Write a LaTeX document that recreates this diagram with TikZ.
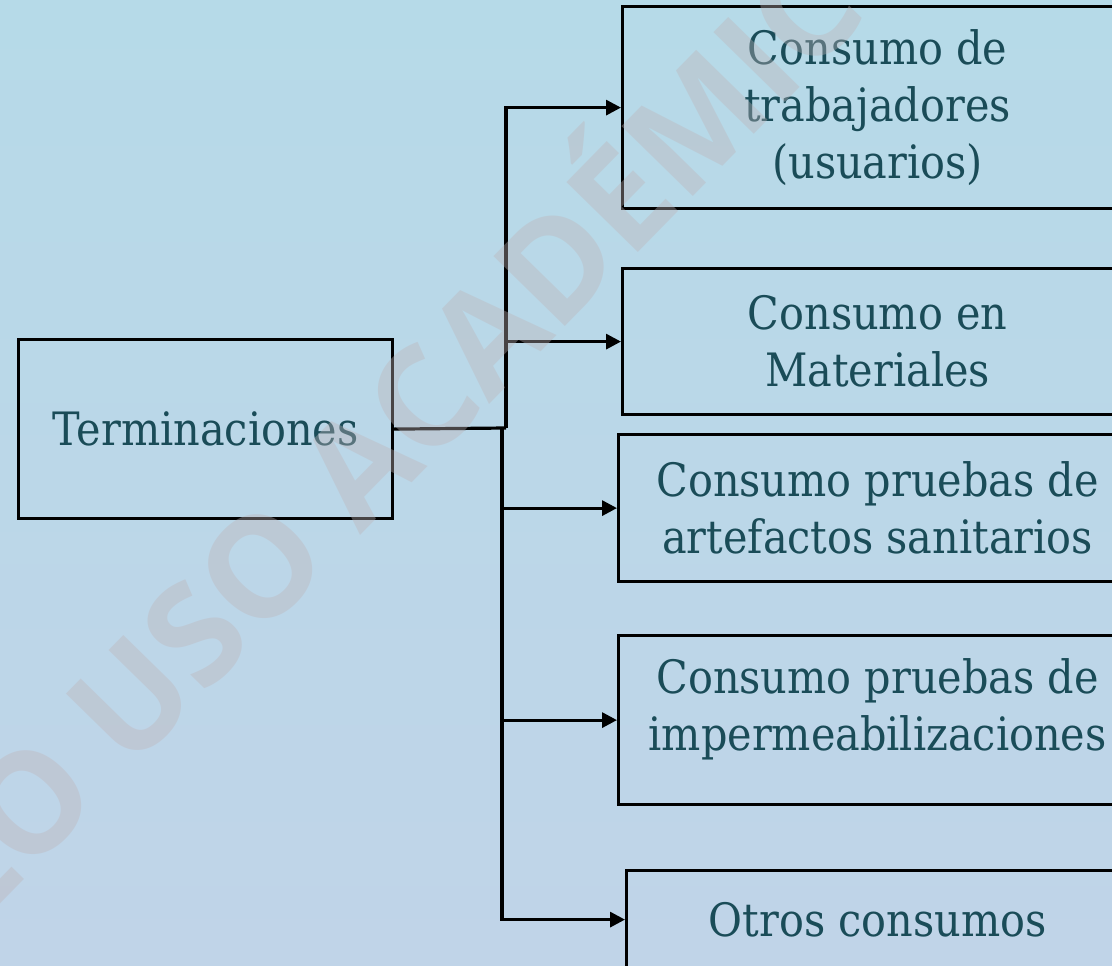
\documentclass[tikz,border=0pt]{standalone}
\usepackage{fontspec}
\setmainfont{DejaVu Serif Condensed}
\newfontfamily\markfont{Open Sans}
\usetikzlibrary{arrows.meta}

\definecolor{skytop}{HTML}{B6DAE8}
\definecolor{skybottom}{HTML}{C0D4E8}
\definecolor{inkteal}{HTML}{1A4C58}
\definecolor{markgrey}{RGB}{190,180,184}

\tikzset{
  conbox/.style={draw=black, line width=3.2pt, text=inkteal, align=center, anchor=north west, inner sep=0pt},
  conline/.style={line width=3.2pt},
  conarrow/.style={conline, -{Triangle[length=15pt,width=15pt]}}
}

\begin{document}
\begin{tikzpicture}[x=1pt,y=-1pt,font=\fontsize{46}{57}\selectfont]
% fondo
\shade[top color=skytop,bottom color=skybottom] (0,0) rectangle (1112,966);
\useasboundingbox (0,0) rectangle (1112,966);

% cajas
\node[conbox,minimum width=374pt,minimum height=179pt] (term) at (17,338) {Terminaciones};
\node[conbox,minimum width=510pt,minimum height=202pt] (trab) at (621,5) {Consumo de\\trabajadores\\(usuarios)};
\node[conbox,minimum width=510pt,minimum height=146pt] (mat) at (621,267) {Consumo en\\Materiales};
\node[conbox,minimum width=518pt,minimum height=147pt] (art) at (617,433) {Consumo pruebas de\\artefactos sanitarios};
\node[conbox,minimum width=518pt,minimum height=169pt] (imp) at (617,634) {Consumo pruebas de\\impermeabilizaciones\\[-25pt]\mbox{}};
\node[conbox,minimum width=502pt,minimum height=98pt] (otros) at (625,869) {Otros consumos};

% conectores
\coordinate (upfork) at (506,428);
\coordinate (lowfork) at (502,428);
\draw[conline] (term.east) -- (upfork);
\draw[conarrow] (upfork) |- (trab.west);
\draw[conarrow] (upfork) |- (mat.west);
\draw[conarrow] (lowfork) |- (art.west);
\draw[conarrow] (lowfork) |- (imp.west);
\draw[conarrow] (lowfork) |- (otros.west);

% marca de agua
\node[rotate=45.6,anchor=base,text=markgrey,opacity=0.38,font=\markfont\bfseries\fontsize{140}{140}\selectfont] (marca) at (394,502) {SOLO USO ACADÉMICO};
\end{tikzpicture}
\end{document}
